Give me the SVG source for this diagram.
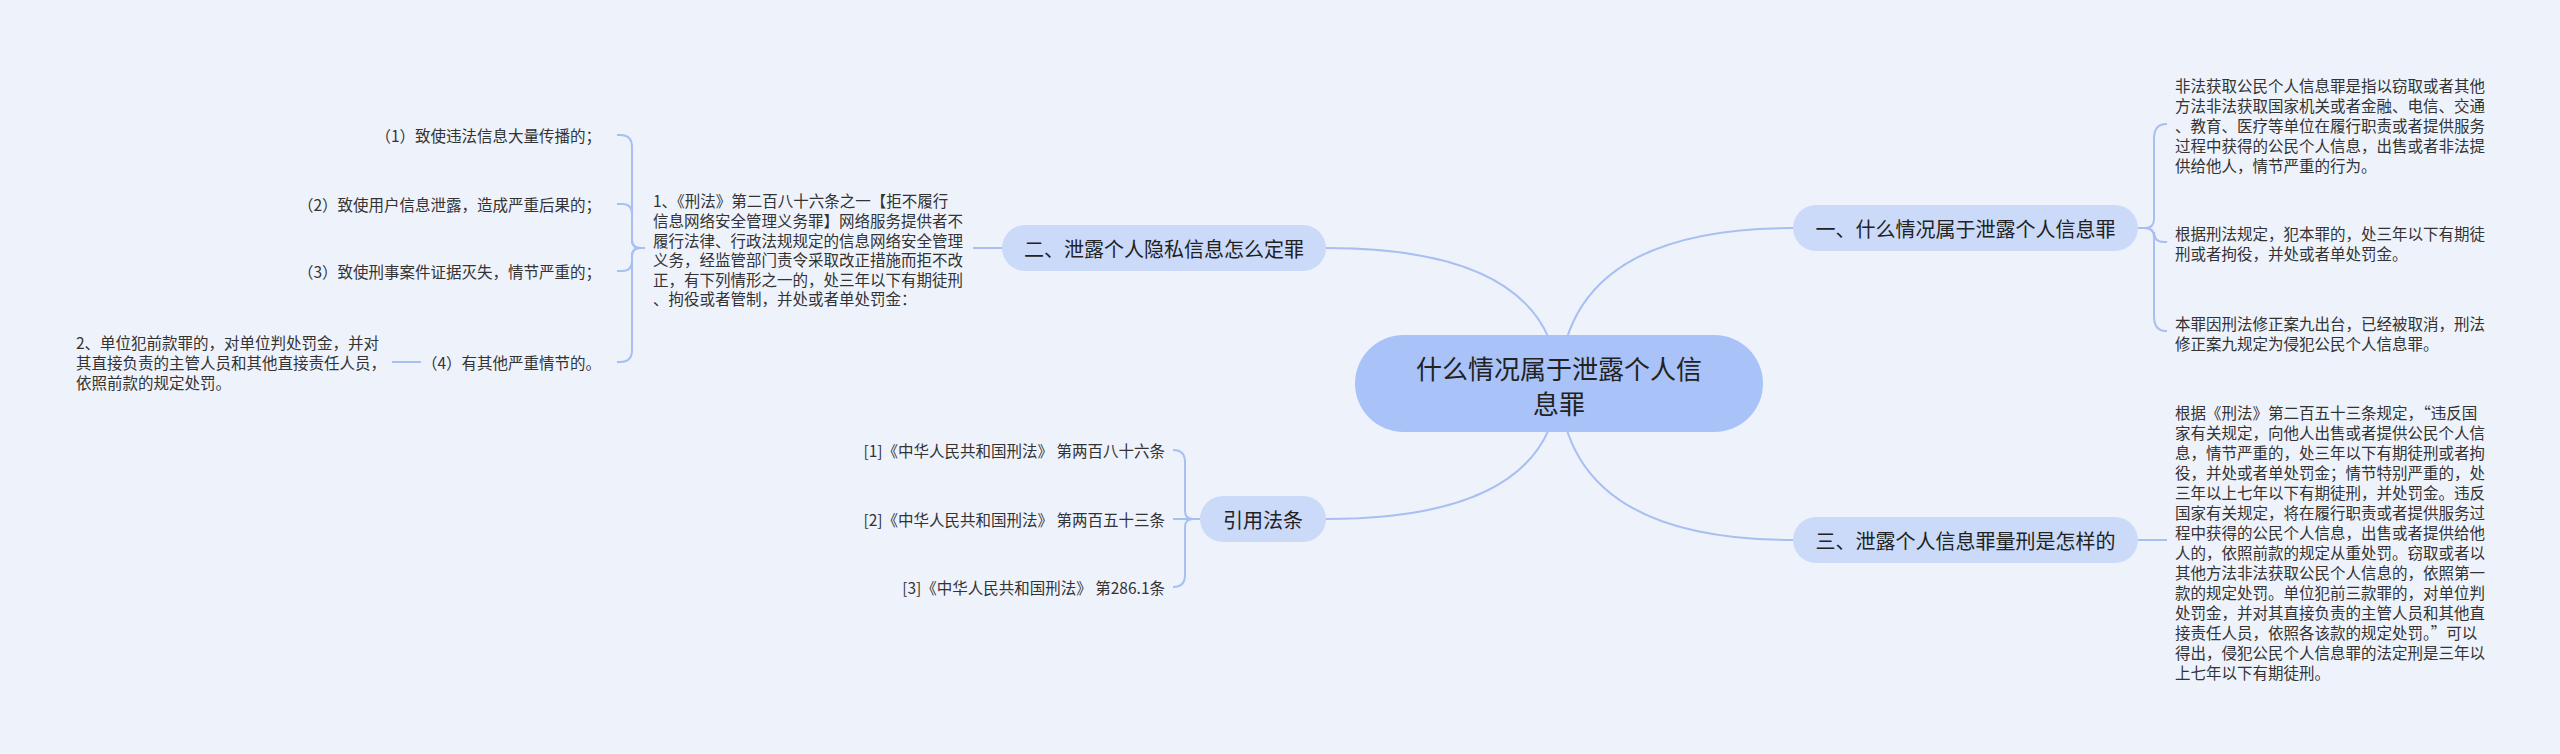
<svg xmlns="http://www.w3.org/2000/svg" width="2560" height="754" viewBox="0 0 2560 754">
<style>
text{font-family:"Noto Sans CJK SC","Noto Sans",sans-serif;dominant-baseline:central;}
.leaf{font-size:15.5px;fill:#333;}
.br{font-size:20px;fill:#222;text-anchor:middle;}
.root{font-size:26px;fill:#222;text-anchor:middle;}
.end{text-anchor:end;}
.ln{fill:none;stroke:#a8bff2;stroke-width:2;}
.bnode{fill:#cbdaf9;}
</style>
<rect x="0" y="0" width="2560" height="754" fill="#eef2fb"/>
<g id="connectors" class="ln">
<path d="M1559,384 Q1566,228 1793,228"/>
<path d="M1559,384 Q1566,540 1793,540"/>
<path d="M1559,384 Q1552,248 1326,248"/>
<path d="M1559,384 Q1552,519 1326,519"/>
<path d="M2138,228 L2145,228 Q2154,228 2154,219 L2154,139 Q2154,124 2166,124 L2167,124"/>
<path d="M2138,228 L2145,228 Q2154,228 2154,237 L2154,232 Q2154,242 2164,242 L2167,242"/>
<path d="M2138,228 L2145,228 Q2154,228 2154,237 L2154,316 Q2154,331 2166,331 L2167,331"/>
<path d="M2138,540 L2167,540"/>
<path d="M1002,248 L973,248"/>
<path d="M645,248 L640,248 Q632,248 632,240 L632,147 Q632,135 620,135 L617,135"/>
<path d="M645,248 L640,248 Q632,248 632,240 L632,214 Q632,204 622,204 L617,204"/>
<path d="M645,248 L640,248 Q632,248 632,256 L632,261 Q632,271 622,271 L617,271"/>
<path d="M645,248 L640,248 Q632,248 632,256 L632,350 Q632,362 620,362 L617,362"/>
<path d="M421,362 L392,362"/>
<path d="M1200,519 L1193,519 Q1185,519 1185,511 L1185,462 Q1185,450 1173,450"/>
<path d="M1200,519 L1173,519"/>
<path d="M1200,519 L1193,519 Q1185,519 1185,527 L1185,575 Q1185,587 1173,587"/>
</g>
<g id="root">
<rect x="1355" y="335" width="408" height="97" rx="48.5" fill="#a9c2f8"/>
<text class="root" x="1559" y="367">什么情况属于泄露个人信</text>
<text class="root" x="1559" y="402">息罪</text>
</g>
<g id="b1">
<rect class="bnode" x="1793" y="205" width="345" height="46" rx="23"/>
<text class="br" x="1965.5" y="228">一、什么情况属于泄露个人信息罪</text>
</g>
<g id="b1-l1">
<text class="leaf" x="2175" y="85">非法获取公民个人信息罪是指以窃取或者其他</text>
<text class="leaf" x="2175" y="105">方法非法获取国家机关或者金融、电信、交通</text>
<text class="leaf" x="2175" y="125">、教育、医疗等单位在履行职责或者提供服务</text>
<text class="leaf" x="2175" y="145">过程中获得的公民个人信息，出售或者非法提</text>
<text class="leaf" x="2175" y="165">供给他人，情节严重的行为。</text>
</g>
<g id="b1-l2">
<text class="leaf" x="2175" y="233">根据刑法规定，犯本罪的，处三年以下有期徒</text>
<text class="leaf" x="2175" y="253">刑或者拘役，并处或者单处罚金。</text>
</g>
<g id="b1-l3">
<text class="leaf" x="2175" y="323">本罪因刑法修正案九出台，已经被取消，刑法</text>
<text class="leaf" x="2175" y="343">修正案九规定为侵犯公民个人信息罪。</text>
</g>
<g id="b3">
<rect class="bnode" x="1793" y="517" width="345" height="46" rx="23"/>
<text class="br" x="1965.5" y="540">三、泄露个人信息罪量刑是怎样的</text>
</g>
<g id="b3-l1">
<text class="leaf" x="2175" y="412">根据《刑法》第二百五十三条规定，“违反国</text>
<text class="leaf" x="2175" y="432">家有关规定，向他人出售或者提供公民个人信</text>
<text class="leaf" x="2175" y="452">息，情节严重的，处三年以下有期徒刑或者拘</text>
<text class="leaf" x="2175" y="472">役，并处或者单处罚金；情节特别严重的，处</text>
<text class="leaf" x="2175" y="492">三年以上七年以下有期徒刑，并处罚金。违反</text>
<text class="leaf" x="2175" y="512">国家有关规定，将在履行职责或者提供服务过</text>
<text class="leaf" x="2175" y="532">程中获得的公民个人信息，出售或者提供给他</text>
<text class="leaf" x="2175" y="552">人的，依照前款的规定从重处罚。窃取或者以</text>
<text class="leaf" x="2175" y="572">其他方法非法获取公民个人信息的，依照第一</text>
<text class="leaf" x="2175" y="592">款的规定处罚。单位犯前三款罪的，对单位判</text>
<text class="leaf" x="2175" y="612">处罚金，并对其直接负责的主管人员和其他直</text>
<text class="leaf" x="2175" y="632">接责任人员，依照各该款的规定处罚。”可以</text>
<text class="leaf" x="2175" y="652">得出，侵犯公民个人信息罪的法定刑是三年以</text>
<text class="leaf" x="2175" y="672">上七年以下有期徒刑。</text>
</g>
<g id="b2">
<rect class="bnode" x="1002" y="225" width="324" height="46" rx="23"/>
<text class="br" x="1164" y="248">二、泄露个人隐私信息怎么定罪</text>
</g>
<g id="b2-l1">
<text class="leaf" x="653" y="200">1、《刑法》第二百八十六条之一【拒不履行</text>
<text class="leaf" x="653" y="220">信息网络安全管理义务罪】网络服务提供者不</text>
<text class="leaf" x="653" y="240">履行法律、行政法规规定的信息网络安全管理</text>
<text class="leaf" x="653" y="259">义务，经监管部门责令采取改正措施而拒不改</text>
<text class="leaf" x="653" y="279">正，有下列情形之一的，处三年以下有期徒刑</text>
<text class="leaf" x="653" y="298">、拘役或者管制，并处或者单处罚金：</text>
</g>
<g id="b2-i1"><text class="leaf end" x="601" y="135">（1）致使违法信息大量传播的；</text></g>
<g id="b2-i2"><text class="leaf end" x="601" y="204">（2）致使用户信息泄露，造成严重后果的；</text></g>
<g id="b2-i3"><text class="leaf end" x="601" y="271">（3）致使刑事案件证据灭失，情节严重的；</text></g>
<g id="b2-i4"><text class="leaf end" x="601" y="362">（4）有其他严重情节的。</text></g>
<g id="b2-i4-l1">
<text class="leaf" x="76" y="342">2、单位犯前款罪的，对单位判处罚金，并对</text>
<text class="leaf" x="76" y="362">其直接负责的主管人员和其他直接责任人员，</text>
<text class="leaf" x="76" y="382">依照前款的规定处罚。</text>
</g>
<g id="b4">
<rect class="bnode" x="1200" y="496" width="126" height="46" rx="23"/>
<text class="br" x="1263" y="519">引用法条</text>
</g>
<g id="b4-c1"><text class="leaf end" x="1165" y="450">[1]《中华人民共和国刑法》 第两百八十六条</text></g>
<g id="b4-c2"><text class="leaf end" x="1165" y="519">[2]《中华人民共和国刑法》 第两百五十三条</text></g>
<g id="b4-c3"><text class="leaf end" x="1165" y="587">[3]《中华人民共和国刑法》 第286.1条</text></g>
</svg>
